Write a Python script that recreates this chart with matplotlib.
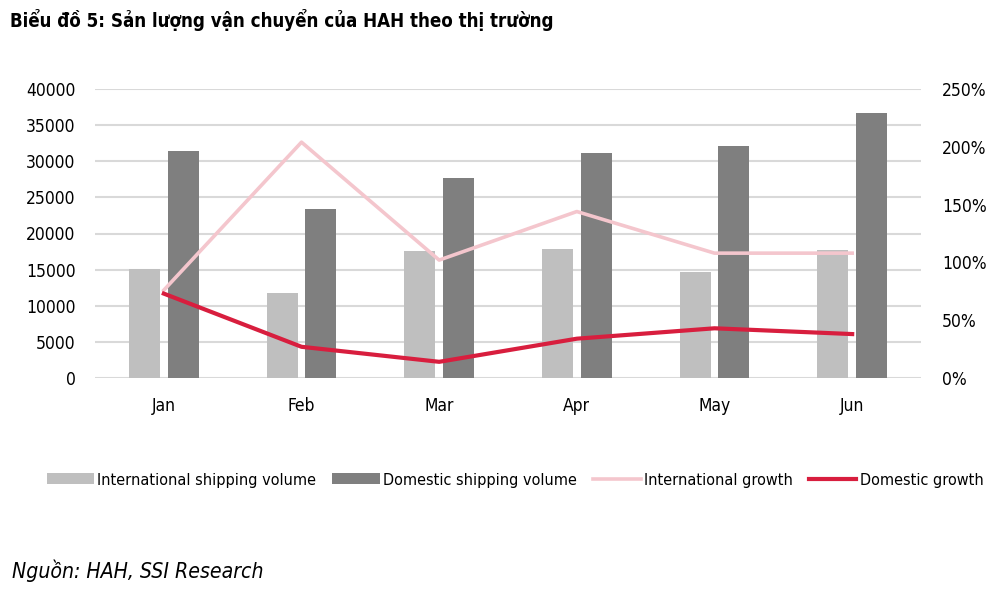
import matplotlib
matplotlib.use('Agg')
import matplotlib.pyplot as plt
import numpy as np
from matplotlib.ticker import FuncFormatter

plt.rcParams['font.family'] = ['DejaVu Sans']
plt.rcParams['font.stretch'] = 'condensed'

months = ['Jan', 'Feb', 'Mar', 'Apr', 'May', 'Jun']
intl_volume = [15100, 11800, 17600, 17850, 14650, 17700]
dom_volume = [31400, 23400, 27700, 31150, 32100, 36700]
intl_growth = [76, 204, 102, 144, 108, 108]
dom_growth = [73, 27, 14, 34, 43, 38]

fig = plt.figure(figsize=(10.02, 5.91), dpi=100)
ax = fig.add_axes([95 / 1002, 1 - 378 / 591, 826 / 1002, 289 / 591])
x = np.arange(len(months))
w = 0.225

ax.bar(x - 0.14, intl_volume, w, color='#BFBFBF', label='International shipping volume', zorder=2)
ax.bar(x + 0.14, dom_volume, w, color='#7F7F7F', label='Domestic shipping volume', zorder=2)
ax.set_ylim(0, 40000)
ax.set_xlim(-0.5, len(months) - 0.5)
ax.set_yticks(range(0, 40001, 5000))
ax.yaxis.grid(True, color='#D9D9D9', linewidth=1.5, zorder=0)
ax.set_axisbelow(True)
ax.set_xticks(x)
ax.set_xticklabels(months)
for s in ax.spines.values():
    s.set_visible(False)
ax.tick_params(axis='both', length=0, labelsize=12.5, colors='#000000')
ax.tick_params(axis='y', pad=14)
ax.tick_params(axis='x', pad=14)

ax2 = ax.twinx()
ax2.plot(x, intl_growth, color='#F4C6CD', linewidth=2.6, label='International growth', zorder=3)
ax2.plot(x, dom_growth, color='#D81E3E', linewidth=3.0, label='Domestic growth', zorder=4)
ax2.set_ylim(0, 250)
ax2.set_yticks(range(0, 251, 50))
ax2.yaxis.set_major_formatter(FuncFormatter(lambda v, p: '%d%%' % v))
for s in ax2.spines.values():
    s.set_visible(False)
ax2.tick_params(axis='y', length=0, labelsize=12.5, pad=15)

h1, l1 = ax.get_legend_handles_labels()
h2, l2 = ax2.get_legend_handles_labels()
fig.legend(h1 + h2, l1 + l2, loc='center', bbox_to_anchor=(0.514, 1 - 480 / 591), ncol=4,
           frameon=False, fontsize=11.6, handlelength=2.95, handleheight=0.65,
           handletextpad=0.2, columnspacing=1.0)

fig.text(10 / 1002, 1 - 20 / 591, 'Biểu đồ 5: Sản lượng vận chuyển của HAH theo thị trường',
         fontsize=13.4, fontweight='bold', va='center', ha='left')
fig.text(12 / 1002, 1 - 571 / 591, 'Nguồn: HAH, SSI Research',
         fontsize=15.2, style='italic', va='center', ha='left')

fig.savefig('out.png', dpi=100)
